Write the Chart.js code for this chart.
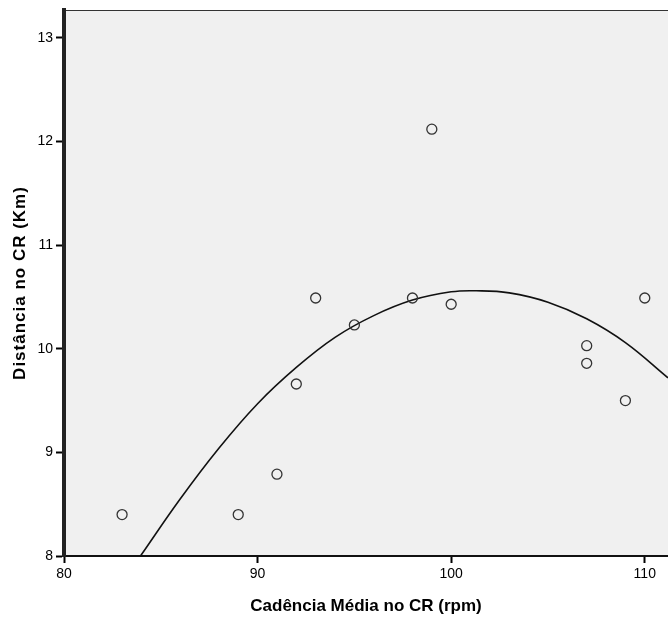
<!DOCTYPE html>
<html>
<head>
<meta charset="utf-8">
<title>Distância x Cadência</title>
<script src="https://cdn.jsdelivr.net/npm/chart.js@4"></script>
<style>
  html, body { margin: 0; padding: 0; background: #fff; }
  #wrap { width: 668px; height: 621px; }
</style>
</head>
<body>
<div id="wrap"><canvas id="grafico" width="668" height="621"></canvas></div>
<script>
// dados
const cadencia = [83, 89, 91, 92, 93, 95, 98, 99, 100, 107, 107, 109, 110];
const distancia = [8.40, 8.40, 8.79, 9.66, 10.49, 10.23, 10.49, 12.12, 10.43, 10.03, 9.86, 9.50, 10.49];

// linha de ajuste (quadrática)
const ajusteX = [83.95, 86, 88, 90, 92, 94, 96, 98, 100, 101.3, 103, 105, 107, 109, 111.2];
const ajusteY = [8.00, 8.55, 9.04, 9.47, 9.82, 10.11, 10.32, 10.47, 10.55, 10.56, 10.54, 10.45, 10.29, 10.06, 9.72];

const xTicks = [80, 90, 100, 110];
const yTicks = [8, 9, 10, 11, 12, 13];

const tituloX = 'Cadência Média no CR (rpm)';
const tituloY = 'Distância no CR (Km)';

const fonte = '"Liberation Sans", Arial, sans-serif';

const pontos = cadencia.map((x, i) => ({ x: x, y: distancia[i] }));
const curva = ajusteX.map((x, i) => ({ x: x, y: ajusteY[i] }));

// fundo cinza da área do gráfico + borda superior
const fundoPlot = {
  id: 'fundoPlot',
  beforeDraw(chart) {
    const { ctx, chartArea: a } = chart;
    ctx.save();
    ctx.fillStyle = '#f0f0f0';
    ctx.fillRect(a.left, a.top, a.right - a.left, a.bottom - a.top);
    ctx.strokeStyle = '#333';
    ctx.lineWidth = 1;
    ctx.beginPath();
    ctx.moveTo(a.left, a.top + 0.5);
    ctx.lineTo(a.right, a.top + 0.5);
    ctx.stroke();
    ctx.restore();
  },
  // título do eixo Y com letras um pouco espaçadas, como no original
  afterDraw(chart) {
    const { ctx, chartArea: a } = chart;
    ctx.save();
    ctx.translate(20, (a.top + a.bottom) / 2);
    ctx.rotate(-Math.PI / 2);
    ctx.font = 'bold 17px ' + fonte;
    ctx.letterSpacing = '1px';
    ctx.fillStyle = '#000';
    ctx.textAlign = 'center';
    ctx.textBaseline = 'middle';
    ctx.fillText(tituloY, 0, 0);
    ctx.restore();
  }
};

new Chart(document.getElementById('grafico'), {
  type: 'scatter',
  data: {
    datasets: [
      {
        data: curva,
        showLine: true,
        borderColor: '#111',
        borderWidth: 1.6,
        pointRadius: 0,
        tension: 0.4,
        fill: false,
        order: 2
      },
      {
        data: pontos,
        pointRadius: 5,
        pointBorderWidth: 1.3,
        pointBorderColor: '#333',
        pointBackgroundColor: 'rgba(0,0,0,0)',
        order: 1
      }
    ]
  },
  options: {
    responsive: false,
    animation: false,
    devicePixelRatio: 1,
    layout: { autoPadding: false, padding: { top: 10, right: 0, bottom: 0, left: 0 } },
    plugins: { legend: { display: false }, tooltip: { enabled: false } },
    scales: {
      x: {
        type: 'linear',
        min: 80,
        max: 111.2,
        afterFit(s) { s.height = 65; s.paddingLeft = 0; s.paddingRight = 0; },
        afterBuildTicks(s) { s.ticks = xTicks.map(v => ({ value: v })); },
        ticks: { color: '#000', font: { family: fonte, size: 14 }, padding: 3, maxRotation: 0 },
        grid: { drawOnChartArea: false, tickLength: 7, tickColor: '#000', tickWidth: 2 },
        border: { display: true, color: '#111', width: 2 },
        title: {
          display: true,
          text: tituloX,
          color: '#000',
          font: { family: fonte, size: 17, weight: 'bold' },
          padding: { top: 0, bottom: 4 }
        }
      },
      y: {
        type: 'linear',
        min: 8,
        max: 13.27,
        afterFit(s) { s.width = 64; s.paddingTop = 0; s.paddingBottom = 0; },
        afterBuildTicks(s) { s.ticks = yTicks.map(v => ({ value: v })); },
        ticks: { color: '#000', font: { family: fonte, size: 14 }, padding: 3 },
        grid: { drawOnChartArea: false, tickLength: 8, tickColor: '#000', tickWidth: 2 },
        border: { display: true, color: '#222', width: 4 },
        title: { display: false }
      }
    }
  },
  plugins: [fundoPlot]
});
</script>
</body>
</html>
